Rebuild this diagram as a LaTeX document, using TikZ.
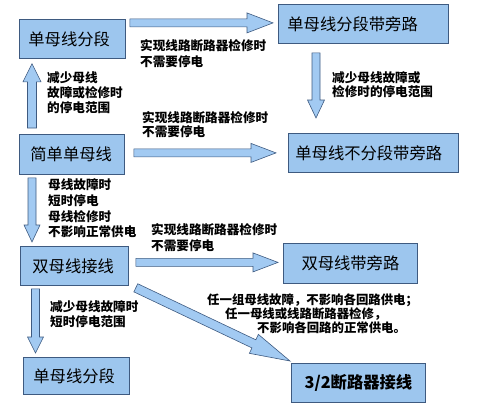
\documentclass[tikz,border=0pt]{standalone}
\usepackage{fontspec}
\newfontfamily\cjk{Noto Sans CJK SC}
\usetikzlibrary{calc}
\definecolor{boxfill}{HTML}{9DC6EE}
\definecolor{arrfill}{HTML}{A2CAF2}
\definecolor{edge}{HTML}{3E5A80}
% \fatarrow[opts]{shaft half}{head half}{head length}{from}{to}
\newcommand\fatarrow[6][]{%
  \coordinate (fa1) at (#5);
  \coordinate (fa2) at (#6);
  \coordinate (fah) at ($(fa2)!#4!(fa1)$);
  \draw[blockarr,#1] ($(fa1)!#2!90:(fa2)$) -- ($(fah)!#2!-90:(fa1)$)
    -- ($(fah)!#3!-90:(fa1)$) -- (fa2) -- ($(fah)!#3!90:(fa1)$)
    -- ($(fah)!#2!90:(fa1)$) -- ($(fa1)!#2!-90:(fa2)$) -- cycle;}
\begin{document}
\begin{tikzpicture}[x=1pt,y=-1pt,
  box/.style={draw=edge, fill=boxfill, line width=0.8pt, anchor=north west,
    inner ysep=0pt, align=left, font=\cjk\fontsize{16.3}{18}\selectfont},
  blockarr/.style={draw=edge, fill=arrfill, line width=0.6pt, line join=miter},
  lab/.style={align=left, inner sep=0pt, anchor=west}]
\useasboundingbox (0,0) rectangle (479,402);
\newcommand\labfont[1]{\cjk\bfseries\fontsize{12.6}{#1}\selectfont}
% boxes
\node[box, minimum height=39pt, inner xsep=9pt, text width=88pt] (b1) at (19,19) {单母线分段};
\node[box, minimum height=39pt, inner xsep=9pt, text width=152pt] (b2) at (278,4) {单母线分段带旁路};
\node[box, minimum height=39pt, inner xsep=7pt, text width=156pt] (b3) at (288,133) {单母线不分段带旁路};
\node[box, minimum height=40pt, inner xsep=11pt, text width=83pt] (b4) at (19,134) {简单单母线};
\node[box, minimum height=39pt, inner xsep=12pt, text width=84pt] (b5) at (20,246) {双母线接线};
\node[box, minimum height=40pt, inner xsep=10pt, text width=114pt, align=center] (b6) at (283,243) {双母线带旁路};
\node[box, minimum height=37pt, inner xsep=10pt, text width=86pt] (b7) at (23,357) {单母线分段};
\node[box, minimum height=39pt, inner xsep=10pt, text width=114pt, align=center,
  font=\cjk\bfseries\fontsize{16.3}{18}\selectfont] (b8) at (291,363) {3/2断路器接线};
% arrows
\fatarrow{4pt}{10pt}{26pt}{$(b1.east |- b2.west)+(4,-1)$}{$(b2.west)+(-5,-1)$}
\fatarrow{4pt}{9.5pt}{25pt}{$(b4.east |- b3.west)+(9,0)$}{$(b3.west)+(-12,0)$}
\fatarrow{4pt}{9.5pt}{25pt}{$(b5.east |- b6.west)+(7,-1)$}{$(b6.west)+(-5,-1)$}
\fatarrow{4.5pt}{9pt}{18pt}{$(b4.north west)+(13,-6)$}{$(b1.south west)+(13,5)$}
\fatarrow{4pt}{8.5pt}{18pt}{$(b2.south west)+(38,9)$}{$(b3.north west)+(28,-15)$}
\fatarrow{4pt}{8pt}{17pt}{$(b4.south west)+(13,3)$}{$(b5.north west)+(12,-4)$}
\fatarrow{4pt}{8pt}{16pt}{$(b5.south west)+(15.5,3)$}{$(b7.north west)+(12.5,-4)$}
\fatarrow{4.5pt}{10.5pt}{40pt}{$(b5.south east)+(7,2)$}{$(b8.north west)+(-1,-2)$}
% labels
\node[lab, font=\labfont{16}] (l1) at (140,53.5) {实现线路断路器检修时\\不需要停电};
\node[lab, font=\labfont{15}] (l2) at (47,93) {减少母线\\故障或检修时\\的停电范围};
\node[lab, font=\labfont{14}] (l3) at (142,125) {实现线路断路器检修时\\不需要停电};
\node[lab, font=\labfont{15.6}] (l4) at (48,208.5) {母线故障时\\短时停电\\母线检修时\\不影响正常供电};
\node[lab, font=\labfont{16}] (l5) at (151,238) {实现线路断路器检修时\\不需要停电};
\node[lab, font=\labfont{14}] (l6) at (332,84.5) {减少母线故障或\\检修时的停电范围};
\node[lab, font=\labfont{15}] (l7) at (50,314.5) {减少母线故障时\\短时停电范围};
\node[lab, font=\cjk\bfseries\fontsize{12.4}{11.5}\selectfont] (l8) at (207,313.5)
  {任一组母线故障，不影响各回路供电；\\\hspace*{18pt}任一母线或线路断路器检修，\\\hspace*{50pt}不影响各回路的正常供电。};
\end{tikzpicture}
\end{document}
